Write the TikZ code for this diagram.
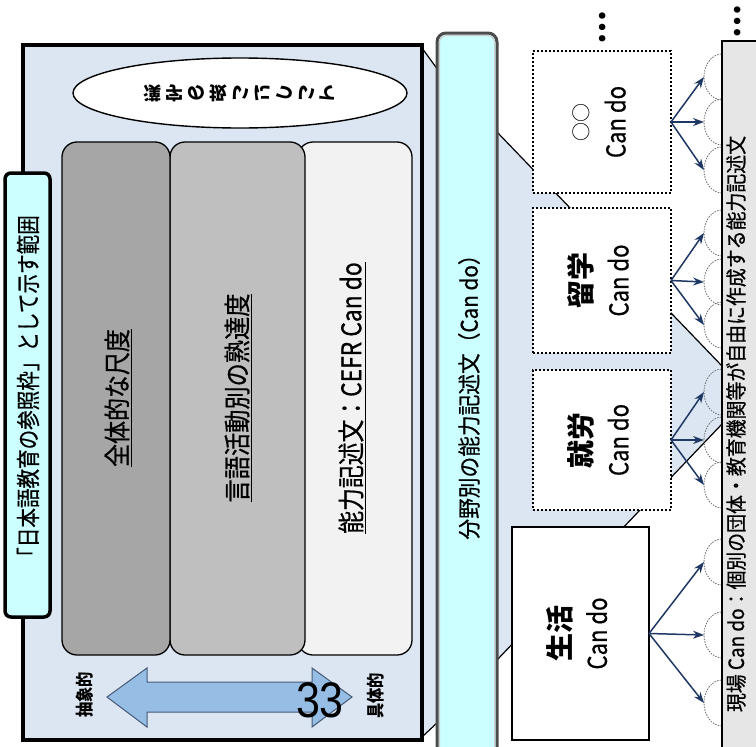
\documentclass[tikz,border=0pt]{standalone}
\usepackage{fontspec}
\setmainfont{Noto Sans CJK JP}
\newfontfamily\med[FakeBold=0.7]{Noto Sans CJK JP}
\newfontfamily\latinsans{Liberation Sans}
\usetikzlibrary{arrows.meta,shapes.geometric}
\newcommand\sx[2]{\scalebox{#1}[1]{#2}}
\newcommand\fs[1]{\fontsize{#1}{#1}\selectfont}
\newcommand\boxtext[1]{\rotatebox{90}{\fs{26}\begin{tabular}{@{}c@{}}#1\\[8pt]\med\sx{0.85}{Can do}\end{tabular}}}
\definecolor{boxfill}{RGB}{220,230,242}
\definecolor{cyanfill}{RGB}{204,255,255}
\definecolor{colA}{RGB}{166,166,166}
\definecolor{colB}{RGB}{191,191,191}
\definecolor{colC}{RGB}{242,242,242}
\definecolor{stripgray}{RGB}{230,230,230}
\definecolor{arrowfill}{RGB}{150,190,228}
\definecolor{arrowline}{RGB}{70,90,120}
\definecolor{navy}{RGB}{31,56,100}
\definecolor{arcgray}{RGB}{110,110,110}
\begin{document}
\begin{tikzpicture}[x=1pt,y=-1pt,
  bigbox/.style={draw=black, line width=3.5pt, fill=boxfill, inner sep=0pt, outer sep=0pt, anchor=north west},
  colbox/.style={draw=black, line width=1.3pt, rounded corners=15pt, inner sep=0pt, outer sep=0pt, anchor=north west},
  dotbox/.style={draw=black, line width=1.8pt, dash pattern=on 1.8pt off 2.2pt, fill=white, inner sep=0pt, outer sep=0pt, anchor=north west},
  solidbox/.style={draw=black, line width=2pt, fill=white, inner sep=0pt, outer sep=0pt, anchor=north west},
  vtext/.style={rotate=90, inner sep=0pt},
  navyarrow/.style={navy, line width=1.5pt, -{Stealth[length=11pt,width=8pt]}},
  arcline/.style={arcgray, line width=0.8pt, dash pattern=on 1.5pt off 1.2pt},
  fanline/.style={black, line width=1.2pt},
]
\useasboundingbox (0,0) rectangle (756,747);
\fill[white] (0,0) rectangle (756,747);

% fan between big box and bar
\coordinate (f1a) at (422,48); \coordinate (f1b) at (438,70);
\coordinate (f1c) at (438,722); \coordinate (f1d) at (422,737);
\fill[boxfill] (f1a) -- (f1b) -- (f1c) -- (f1d) -- cycle;
\draw[fanline] (f1a) -- (f1b);
\draw[fanline] (f1d) -- (f1c);

% fan between bar and strip
\coordinate (f2a) at (497,132); \coordinate (f2b) at (722,366);
\coordinate (f2c) at (722,424); \coordinate (f2d) at (497,660);
\fill[boxfill] (f2a) -- (f2b) -- (f2c) -- (f2d) -- cycle;
\draw[fanline] (f2a) -- (f2b);
\draw[fanline] (f2d) -- (f2c);

% big box
\node[bigbox, minimum width=399pt, minimum height=695pt] (big) at (23,45) {};

% ellipse
\node[ellipse, draw, line width=1.4pt, fill=white, minimum width=334pt, minimum height=70pt, inner sep=0pt] (kanji) at (240,93)
  {\fs{18}\bfseries\addfontfeature{LetterSpace=22}\scalebox{1}[-1]{漢字の扱いについて}};

% columns
\node[colbox, fill=colC, minimum width=114pt, minimum height=513pt] (c3) at (298,142) {};
\node[colbox, fill=colB, minimum width=135pt, minimum height=513pt] (c2) at (170,142) {};
\node[colbox, fill=colA, minimum width=108pt, minimum height=513pt] (c1) at (62,142) {};
\node[vtext] (t1) at (118,398) {\med\fs{27}\sx{0.85}{\underline{全体的な尺度}}};
\node[vtext] (t2) at (238,398) {\med\fs{27}\sx{0.86}{\underline{言語活動別の熟達度}}};
\node[vtext] (t3) at (352,398) {\med\fs{27}\sx{0.845}{\underline{能力記述文：CEFR Can do}}};

% left label
\node[draw, line width=3.5pt, fill=cyanfill, rounded corners=6pt, minimum width=45pt, minimum height=444pt, inner sep=0pt, outer sep=0pt, anchor=north west] (lbl) at (5,173) {};
\node[vtext] (lbltext) at (28,391) {\med\fs{24}\sx{0.815}{「日本語教育の参照枠」として示す範囲}};

% double arrow
\fill[arrowfill] (107,697) -- (147,668) -- (147,682) -- (312,682) -- (312,668) -- (352,697)
  -- (312,727) -- (312,712) -- (147,712) -- (147,727) -- cycle;
\draw[arrowline, line width=1pt] (107,697) -- (147,668) -- (147,682) -- (312,682) -- (312,668) -- (352,697)
  -- (312,727) -- (312,712) -- (147,712) -- (147,727) -- cycle;
\node[vtext] (abs) at (85,695) {\fs{18}\bfseries\sx{0.85}{抽象的}};
\node[vtext] (conc) at (376,696) {\fs{18}\bfseries\sx{0.85}{具体的}};
\node (pg) at (320,700) {\latinsans\fs{50}\sx{0.86}{33}};

% bar
\node[draw=gray!60!black, line width=3pt, fill=cyanfill, rounded corners=9pt, minimum width=60pt, minimum height=742pt, inner sep=0pt, outer sep=0pt, anchor=north west] (bar) at (437,33) {};
\draw[gray!40, line width=1pt, rounded corners=7pt] (439.5,35.5) rectangle (494.5,772);
\node[vtext] (bartext) at (469,392) {\med\fs{23}\sx{0.9}{分野別の能力記述文（Can do）}};

% arcs
\foreach \t in {77,122,170,233,282,325,392,440,485,562,635,703}
  \draw[arcline] (722,\t) ellipse [x radius=18, y radius=23];

% strip
\node[draw, line width=1.3pt, fill=stripgray, minimum width=50pt, minimum height=730pt, inner sep=0pt, outer sep=0pt, anchor=north west] (strip) at (722,41) {};
\node[vtext] (striptext) at (736,424) {\med\fs{21}\sx{0.9}{現場 Can do：個別の団体・教育機関等が自由に作成する能力記述文}};

% boxes
\node[dotbox, minimum width=138pt, minimum height=142pt] (oo) at (533,51) {\boxtext{\fs{19}○○}};
\node[dotbox, minimum width=138pt, minimum height=145pt] (ryu) at (533,208) {\boxtext{\fs{28}\bfseries 留学}};
\node[dotbox, minimum width=138pt, minimum height=140pt] (shu) at (533,370) {\boxtext{\fs{28}\bfseries 就労}};
\node[solidbox, minimum width=137pt, minimum height=213pt] (sei) at (512,527) {\boxtext{\fs{28}\bfseries 生活}};

% arrows
\foreach \n/\t [count=\i] in {oo/77,oo/122,oo/170,ryu/233,ryu/282,ryu/325,shu/392,shu/440,shu/485,sei/562,sei/635,sei/703}{
  \coordinate (a\i) at (704,\t);
  \draw[navyarrow] (\n.east) -- (a\i);
}

% dots
\node[vtext] (dots1) at (603,28) {\fs{30}\bfseries …};
\node[vtext] (dots2) at (738,22) {\fs{30}\bfseries …};
\end{tikzpicture}
\end{document}
